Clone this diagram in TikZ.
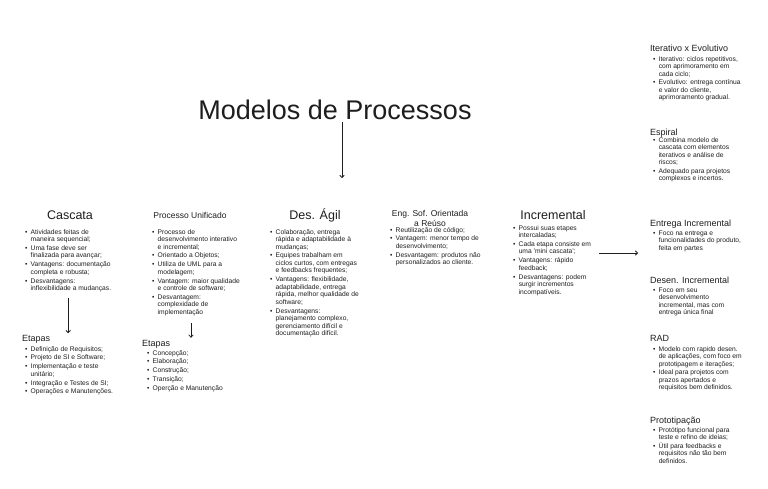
\documentclass[tikz,border=0pt]{standalone}
\usepackage{fontspec}
\setmainfont{Liberation Sans}
\usetikzlibrary{arrows.meta}
\definecolor{tinta}{HTML}{1E1E1E}
\tikzset{
  px/.style={x=1pt,y=-1pt,text=tinta,inner sep=0pt},
  titulo/.style={font=\fontsize{27}{30}\selectfont,anchor=base},
  cab/.style={font=\fontsize{12.5}{14}\selectfont,anchor=base},
  cabp/.style={font=\fontsize{8.5}{10}\selectfont,anchor=base},
  sub/.style={font=\fontsize{9}{11}\selectfont,anchor=base west},
  lista/.style={font=\fontsize{6.7}{7.5}\selectfont,anchor=base west},
  seta/.style={draw=tinta,line width=.8pt,-{To[length=3pt,width=5pt]}}
}
\newcommand{\bul}{\rule{0pt}{6.6pt}\textbullet&}
\newcommand{\blista}[1]{\begin{tabular}[t]{@{}l@{\hspace{3.2pt}}l@{}}#1\end{tabular}}

\begin{document}
\begin{tikzpicture}[px]
  \useasboundingbox[fill=white] (0,0) rectangle (768,488);
  \node[titulo] (tit) at (335,119) {Modelos de Processos};
  \coordinate (fim) at (342,178);
  \draw[seta,shorten <=3pt] (tit.south -| fim) -- (fim);

  \node[cab] (casc) at (70,219.5) {Cascata};
  \node[cabp] (pu) at (190,218) {Processo Unificado};
  \node[cab] (agil) at (315,219.5) {Des. Ágil};
  \node[cabp] (eng) at (430,216) {\begin{tabular}[t]{@{}c@{}}Eng. Sof. Orientada\\a Reúso\end{tabular}};
  \node[cab] (inc) at (553,219.5) {Incremental};

  \node[lista] (lcasc) at (25,234) {\blista{
    \bul Atividades feitas de\\ & maneira sequencial;\\
    \bul Uma fase deve ser\\ & finalizada para avançar;\\
    \bul Vantagens: documentação\\ & completa e robusta;\\
    \bul Desvantagens:\\ & inflexibilidade a mudanças.}};
  \node[lista] (lpu) at (152,234) {\blista{
    \bul Processo de\\ & desenvolvimento interativo\\ & e incremental;\\
    \bul Orientado a Objetos;\\
    \bul Utiliza de UML para a\\ & modelagem;\\
    \bul Vantagem: maior qualidade\\ & e controle de software;\\
    \bul Desvantagem:\\ & complexidade de\\ & implementação}};
  \node[lista] (lagil) at (270,234) {\blista{
    \bul Colaboração, entrega\\ & rápida e adaptabilidade à\\ & mudanças;\\
    \bul Equipes trabalham em\\ & ciclos curtos, com entregas\\ & e feedbacks frequentes;\\
    \bul Vantagens: flexibilidade,\\ & adaptabilidade, entrega\\ & rápida, melhor qualidade de\\ & software;\\
    \bul Desvantagens:\\ & planejamento complexo,\\ & gerenciamento difícil e\\ & documentação difícil.}};
  \node[lista] (leng) at (390,232) {\blista{
    \bul Reutilização de código;\\
    \bul Vantagem: menor tempo de\\ & desenvolvimento;\\
    \bul Desvantagem: produtos não\\ & personalizados ao cliente.}};
  \node[lista] (linc) at (513,230) {\blista{
    \bul Possui suas etapes\\ & intercaladas;\\
    \bul Cada etapa consiste em\\ & uma 'mini cascata';\\
    \bul Vantagens: rápido\\ & feedback;\\
    \bul Desvantagens: podem\\ & surgir incrementos\\ & incompatíveis.}};

  \node[sub] (ecasc) at (22,341) {Etapas};
  \node[lista] (lecasc) at (25,351) {\blista{
    \bul Definição de Requisitos;\\
    \bul Projeto de SI e Software;\\
    \bul Implementação e teste\\ & unitário;\\
    \bul Integração e Testes de SI;\\
    \bul Operações e Manutenções.}};
  \node[sub] (epu) at (142,346) {Etapas};
  \node[lista] (lepu) at (147,355) {\blista{
    \bul Concepção;\\
    \bul Elaboração;\\
    \bul Construção;\\
    \bul Transição;\\
    \bul Operção e Manutenção}};

  \draw[seta,shorten <=5pt,shorten >=1.5pt] (lcasc.south) -- (lcasc.south |- ecasc.north);
  \draw[seta,shorten <=6pt,shorten >=2pt] ([xshift=-5pt]lpu.south) -- ([xshift=-5pt]lpu.south |- epu.north);
  \coordinate (dir) at (638,253);
  \draw[seta,shorten <=8pt] (linc.east |- dir) -- (dir);

  \foreach \nome/\y/\txt in {it/51/{Iterativo x Evolutivo},es/135/Espiral,ei/226/{Entrega Incremental},
      di/283/{Desen. Incremental},rad/341/RAD,pt/423/Prototipação}
    \node[sub] (\nome) at (650,\y) {\txt};

  \node[lista] (lit) at (653,61) {\blista{
    \bul Iterativo: ciclos repetitivos,\\ & com aprimoramento em\\ & cada ciclo;\\
    \bul Evolutivo: entrega contínua\\ & e valor do cliente,\\ & aprimoramento gradual.}};
  \node[lista] (les) at (653,142) {\blista{
    \bul Combina modelo de\\ & cascata com elementos\\ & iterativos e análise de\\ & riscos;\\
    \bul Adequado para projetos\\ & complexos e incertos.}};
  \node[lista] (lei) at (653,235) {\blista{
    \bul Foco na entrega e\\ & funcionalidades do produto,\\ & feita em partes}};
  \node[lista] (ldi) at (653,292) {\blista{
    \bul Foco em seu\\ & desenvolvimento\\ & incremental, mas com\\ & entrega única final}};
  \node[lista] (lrad) at (653,351) {\blista{
    \bul Modelo com rapido desen.\\ & de aplicações, com foco em\\ & prototipagem e iterações;\\
    \bul Ideal para projetos com\\ & prazos apertados e\\ & requisitos bem definidos.}};
  \node[lista] (lpt) at (653,432) {\blista{
    \bul Protótipo funcional para\\ & teste e refino de ideias;\\
    \bul Útil para feedbacks e\\ & requisitos não tão bem\\ & definidos.}};
\end{tikzpicture}
\end{document}
